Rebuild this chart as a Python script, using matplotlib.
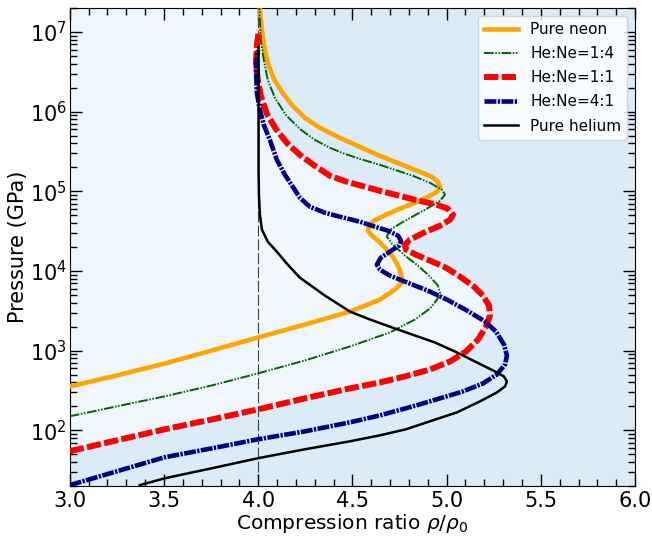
import matplotlib
matplotlib.use("Agg")

import matplotlib.pyplot as plt
from matplotlib.ticker import MultipleLocator

# Hugoniot curves: compression ratio and pressure (GPa)
neon_rho = [3.000, 3.250, 3.504, 3.754, 3.998, 4.248, 4.487, 4.646, 4.726, 4.758,
            4.763, 4.747, 4.715, 4.678, 4.636, 4.598, 4.582, 4.588, 4.614, 4.678,
            4.752, 4.832, 4.901, 4.949, 4.965, 4.954, 4.922, 4.859, 4.752, 4.646,
            4.540, 4.434, 4.328, 4.248, 4.179, 4.126, 4.083, 4.051, 4.030, 4.020,
            4.009, 4.004]
neon_p = [355, 489, 690, 1005, 1462, 2128, 3097, 4375, 5847, 6950,
          8260, 11020, 15130, 19060, 24030, 28580, 32070, 37060, 42790, 50880,
          60530, 71990, 85560, 98850, 114100, 131800, 152300, 175800, 221600, 279300,
          362200, 469200, 626300, 835800, 1.216e6, 1.77e6, 2.576e6, 4.087e6, 6.871e6, 1.06e7,
          1.88e7, 2.51e7]

he1ne4_rho = [3.000, 3.250, 3.504, 3.754, 3.998, 4.248, 4.487, 4.699, 4.832, 4.912,
              4.949, 4.965, 4.954, 4.912, 4.848, 4.779, 4.710, 4.683, 4.699, 4.779,
              4.885, 4.965, 4.991, 4.976, 4.912, 4.821, 4.726, 4.646, 4.540, 4.460,
              4.381, 4.301, 4.221, 4.147, 4.089, 4.051, 4.030, 4.014, 4.009, 4.004]
he1ne4_p = [150, 200, 267, 366, 518, 754, 1130, 1692, 2462, 3381,
            4375, 5356, 6554, 8505, 11680, 15590, 22030, 26980, 33030, 42790,
            58740, 76210, 90590, 104700, 128000, 156700, 186300, 215300, 255900, 295800,
            351600, 442800, 608100, 910300, 1.486e6, 2.5e6, 4.457e6, 7.925e6, 1.413e7, 2.51e7]

he1ne1_rho = [3.000, 3.250, 3.504, 3.754, 3.998, 4.248, 4.487, 4.646, 4.779, 4.912,
              5.018, 5.103, 5.167, 5.209, 5.230, 5.225, 5.193, 5.145, 5.071, 4.996,
              4.912, 4.837, 4.784, 4.779, 4.805, 4.890, 4.965, 5.018, 5.034, 5.007,
              4.949, 4.832, 4.646, 4.471, 4.381, 4.301, 4.221, 4.152, 4.094, 4.046,
              4.014, 3.998, 3.988, 3.993, 4.004]
he1ne1_p = [54.6, 75.0, 103, 137, 183, 252, 336, 399, 475, 581,
            732, 977, 1381, 2010, 2761, 3682, 4917, 6368, 8505, 11020,
            13490, 16030, 18530, 21410, 24730, 31190, 37060, 44060, 50880, 60530,
            67920, 78420, 101600, 131800, 156700, 208900, 287100, 406000, 608100, 937000,
            1.577e6, 2.5e6, 4.087e6, 6.871e6, 1.06e7]

he4ne1_rho = [3.000, 3.250, 3.504, 3.754, 3.998, 4.248, 4.487, 4.646, 4.821, 4.965,
              5.087, 5.193, 5.267, 5.310, 5.320, 5.304, 5.262, 5.204, 5.108, 5.002,
              4.912, 4.805, 4.699, 4.646, 4.630, 4.651, 4.699, 4.747, 4.758, 4.742,
              4.689, 4.620, 4.540, 4.434, 4.354, 4.274, 4.221, 4.184, 4.142, 4.099,
              4.062, 4.030, 4.009, 3.993, 3.988, 3.998]
he4ne1_p = [20.5, 30.6, 45.9, 59.4, 77.1, 97.1, 126, 154, 200, 252,
            308, 388, 503, 671, 871, 1197, 1740, 2323, 3190, 4375,
            5517, 6950, 8750, 10410, 12020, 14720, 17500, 20800, 24030, 27760,
            32070, 35980, 41590, 47980, 53950, 64120, 83200, 114100, 161400, 248900,
            442800, 682300, 1.052e6, 1.718e6, 3.64e6, 5.943e6]

helium_rho = [3.372, 3.504, 3.754, 3.998, 4.248, 4.487, 4.646, 4.784, 4.912, 5.055,
              5.177, 5.267, 5.310, 5.320, 5.304, 5.246, 5.150, 5.055, 4.938, 4.832,
              4.726, 4.593, 4.487, 4.354, 4.221, 4.152, 4.099, 4.051, 4.020, 4.009,
              4.004, 4.002, 4.002, 4.002, 4.002]
helium_p = [20.5, 25.0, 33.4, 44.6, 57.8, 72.8, 86.5, 103, 130, 168,
            231, 299, 356, 411, 475, 565, 732, 949, 1267, 1550,
            1897, 2462, 3097, 4917, 8260, 12380, 17500, 23330, 33030, 50880,
            90590, 186300, 442800, 1.406e6, 6.486e6]

labels = ["Pure neon", "He:Ne=1:4", "He:Ne=1:1", "He:Ne=4:1", "Pure helium"]

fig = plt.figure(figsize=(6.52, 5.4), dpi=100)
ax = fig.add_axes([0.107, 0.1, 0.867, 0.885])
ax.set_facecolor("#dbecf8")

# lighter shading on the low-density side of the 1:1 curve
fill_p = he1ne1_p + [3e7]
fill_rho = he1ne1_rho + [4.0]
ax.fill_betweenx(fill_p, 2.9, fill_rho, color="#eff7fd", lw=0, zorder=0)

ax.axvline(4.0, color="0.25", lw=0.8, ls=(0, (10, 2.5)), zorder=1)

ax.plot(neon_rho, neon_p, color="orange", lw=3.3, label=labels[0], zorder=3)
ax.plot(he1ne4_rho, he1ne4_p, color="darkgreen", lw=1.4,
        ls=(0, (5, 0.8, 0.8, 0.8, 0.8, 0.8)), label=labels[1], zorder=3)
ax.plot(he1ne1_rho, he1ne1_p, color="red", lw=4.3, ls=(0, (2.4, 0.55)),
        label=labels[2], zorder=3)
ax.plot(he4ne1_rho, he4ne1_p, color="navy", lw=3.3, ls=(0, (2.6, 0.3, 0.5, 0.3)),
        label=labels[3], zorder=3)
ax.plot(helium_rho, helium_p, color="black", lw=1.8, label=labels[4], zorder=3)

ax.set_yscale("log")
ax.set_xlim(3.0, 6.0)
ax.set_ylim(20, 2e7)
ax.set_yticks([1e2, 1e3, 1e4, 1e5, 1e6, 1e7])
ax.xaxis.set_major_locator(MultipleLocator(0.5))
ax.xaxis.set_minor_locator(MultipleLocator(0.1))
ax.tick_params(which="both", direction="in", top=True, right=True, labelsize=15)
ax.tick_params(which="major", length=8.5, width=1)
ax.tick_params(which="minor", length=5, width=1)
ax.tick_params(axis="y", which="major", pad=2)

ax.set_xlabel(r"Compression ratio $\rho/\rho_0$", fontsize=14.5, labelpad=1)
ax.set_ylabel("Pressure (GPa)", fontsize=15, labelpad=1)

ax.legend(loc="upper right", fontsize=11, handlelength=2.2, labelspacing=0.6)

fig.savefig("out.png", dpi=100)
plt.close(fig)
